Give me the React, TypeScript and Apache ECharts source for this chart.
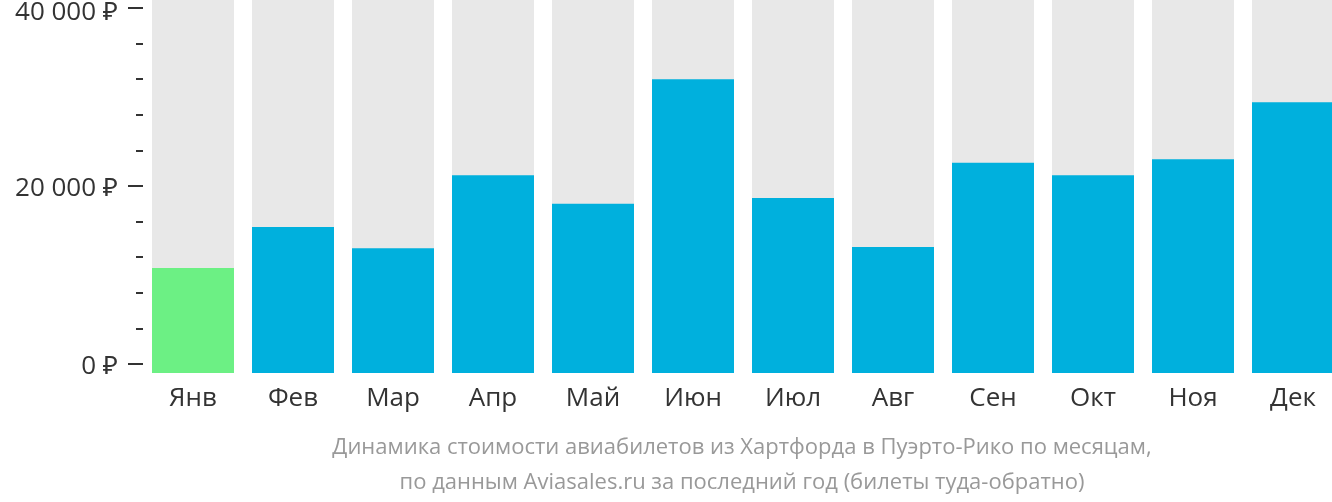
import React, { useEffect, useRef } from "react";
import * as echarts from "echarts";

const months = ["Янв", "Фев", "Мар", "Апр", "Май", "Июн", "Июл", "Авг", "Сен", "Окт", "Ноя", "Дек"];
const prices = [10800, 15400, 13000, 21200, 18000, 32000, 18650, 13150, 22600, 21200, 23000, 29400];
const cheapestIndex = 0;
const majorTicks = [0, 20000, 40000];
const minorTicks = [4000, 8000, 12000, 16000, 24000, 28000, 32000, 36000];
const footerLines = [
  "Динамика стоимости авиабилетов из Хартфорда в Пуэрто-Рико по месяцам,",
  "по данным Aviasales.ru за последний год (билеты туда-обратно)",
];

// 40 000 spans 356 px; the grid extends 9 px below zero and 8 px above 40 000
const PX_PER_UNIT = 356 / 40000;
const Y_MIN = -9 / PX_PER_UNIT;
const Y_MAX = 40000 + 8 / PX_PER_UNIT;
const FONT = "'Open Sans', 'Noto Sans', sans-serif";

export default function App() {
  const ref = useRef<HTMLDivElement>(null);
  useEffect(() => {
    if (!ref.current) return;
    const chart = echarts.init(ref.current, null, { renderer: "svg" });
    const colorFor = (i: number) => (i === cheapestIndex ? "#6cf084" : "#00b0dd");
    const fmt = (v: number) => {
      const s = v === 0 ? "0 ₽" : `${v / 1000} 000 ₽`;
      return v === majorTicks[majorTicks.length - 1] ? `{top|${s}}` : s;
    };
    chart.setOption({
      animation: false,
      grid: {
        left: 143,
        top: 0,
        width: 1200,
        height: 373,
        containLabel: false,
        outerBoundsMode: "none",
      },
      xAxis: {
        type: "category",
        data: months,
        axisLine: { show: false },
        axisTick: { show: false },
        axisLabel: { color: "#333", fontSize: 26, fontFamily: FONT, margin: 10 },
      },
      yAxis: [
        {
          type: "value",
          min: Y_MIN,
          max: Y_MAX,
          position: "left",
          splitLine: { show: false },
          axisLine: { show: false },
          axisTick: {
            show: true,
            customValues: majorTicks,
            length: 15,
            lineStyle: { color: "#333", width: 2 },
          },
          axisLabel: {
            customValues: majorTicks,
            formatter: fmt,
            color: "#333",
            fontSize: 26,
            fontFamily: FONT,
            margin: 25,
            rich: {
              top: {
                color: "#333",
                fontSize: 26,
                fontFamily: FONT,
                lineHeight: 12,
                padding: [4, 0, 0, 0],
              },
            },
          },
        },
        {
          type: "value",
          min: Y_MIN,
          max: Y_MAX,
          position: "left",
          splitLine: { show: false },
          axisLine: { show: false },
          axisTick: {
            show: true,
            customValues: minorTicks,
            length: 7,
            lineStyle: { color: "#333", width: 2 },
          },
          axisLabel: { show: false },
        },
      ],
      series: [
        {
          type: "bar",
          data: prices,
          barWidth: 82,
          barGap: "-100%",
          showBackground: true,
          backgroundStyle: { color: "#e8e8e8" },
          itemStyle: { color: (p: any) => colorFor(p.dataIndex) },
        },
        {
          type: "bar",
          data: months.map(() => Y_MIN),
          barWidth: 82,
          barGap: "-100%",
          itemStyle: { color: (p: any) => colorFor(p.dataIndex) },
        },
      ],
      graphic: footerLines.map((t, i) => ({
        type: "text",
        x: 742,
        y: 445 + i * 35,
        style: {
          text: t,
          fill: "#999",
          font: `22px ${FONT}`,
          textAlign: "center",
          textVerticalAlign: "middle",
        },
      })),
    });
    return () => chart.dispose();
  }, []);
  return (
    <div
      ref={ref}
      style={{ position: "fixed", left: 0, top: 0, width: 1360, height: 502 }}
    />
  );
}
